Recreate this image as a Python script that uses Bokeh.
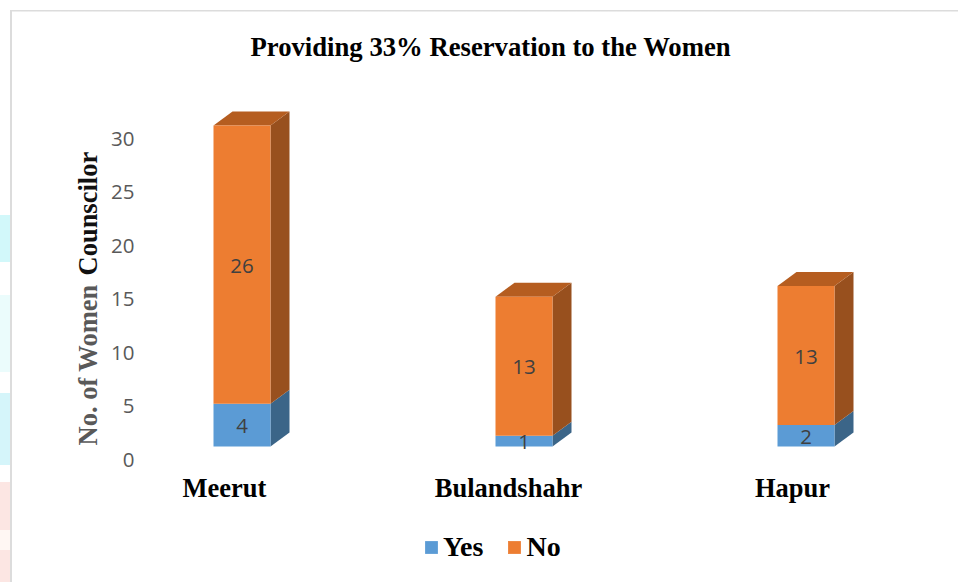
from math import pi
from bokeh.plotting import figure
from bokeh.models import (Range1d, FixedTicker, Label, Legend, LegendItem)
from bokeh.core.properties import value
from bokeh.embed import file_html
from bokeh.resources import INLINE

categories = ["Meerut", "Bulandshahr", "Hapur"]
yes_values = [4, 1, 2]
no_values = [26, 13, 13]
y_ticks = [0, 5, 10, 15, 20, 25, 30]
chart_title = "Providing 33% Reservation to the Women"

SERIF = "Liberation Serif"
SANS = "Open Sans"

FRAME_L, FRAME_T, FRAME_B = 30, 20, 575

def X(px): return (px - 224) / 284
def V(py): return (459 - py) / 10.7

bar_centers = [X(241.5), X(523.5), X(805.5)]
half_w = 28.5 / 284
dx = 19 / 284
dv = 14 / 10.7
base = 13 / 10.7

p = figure(width=958, height=582, output_backend="svg", toolbar_location=None,
           x_range=Range1d(X(FRAME_L), X(958)), y_range=Range1d(V(FRAME_B), V(FRAME_T)),
           min_border_left=FRAME_L, min_border_right=0, min_border_top=FRAME_T,
           min_border_bottom=582 - FRAME_B,
           background_fill_color=None, border_fill_color=None, outline_line_color=None)
p.grid.visible = False

def band(color, y0, y1, x=0, w=10):
    return f"linear-gradient({color},{color}) {x}px {y0}px/{w}px {y1 - y0}px no-repeat"

p.styles = {"background": ", ".join([
    band("#DCDCDC", 10, 11.5, 10, 948),
    band("#DCDCDC", 10, 582, 10, 2),
    band("#D2F8FA", 215, 262),
    band("#EBFCFC", 295, 372),
    band("#D5F5FA", 393, 465),
    band("#FCE6E3", 482, 530),
    band("#FFF7F3", 530, 550),
    band("#FCE6E3", 550, 582),
]) + ", white"}

p.add_layout(Label(x=X(250), y=V(46), text=chart_title, text_font=SERIF, text_font_style="bold",
                   text_font_size="26.7px", text_color="#000000", text_align="left",
                   text_baseline="middle"))

ya = p.yaxis[0]
ya.ticker = FixedTicker(ticks=y_ticks)
ya.axis_line_color = None
ya.major_tick_line_color = None
ya.minor_tick_line_color = None
ya.major_tick_out = 0
ya.major_label_standoff = -(134 - FRAME_L)
ya.major_label_text_font = SANS
ya.major_label_text_font_size = "20.5px"
ya.major_label_text_color = "#595959"

xa = p.xaxis[0]
xa.ticker = FixedTicker(ticks=list(range(len(categories))))
xa.major_label_overrides = {i: c for i, c in enumerate(categories)}
xa.axis_line_color = None
xa.major_tick_line_color = None
xa.minor_tick_line_color = None
xa.major_tick_out = 0
xa.major_label_standoff = 472 - FRAME_B
xa.major_label_text_font = SERIF
xa.major_label_text_font_style = "bold"
xa.major_label_text_font_size = "26.5px"
xa.major_label_text_color = "#000000"

def faces(bottoms, tops):
    front_l, front_r, front_b, front_t = [], [], [], []
    side_x, side_y, top_x, top_y = [], [], [], []
    for c, b, t_ in zip(bar_centers, bottoms, tops):
        l, r = c - half_w, c + half_w
        front_l.append(l); front_r.append(r); front_b.append(b); front_t.append(t_)
        side_x.append([r, r + dx, r + dx, r])
        side_y.append([b, b + dv, t_ + dv, t_])
        top_x.append([l, r, r + dx, l + dx])
        top_y.append([t_, t_, t_ + dv, t_ + dv])
    return front_l, front_r, front_b, front_t, side_x, side_y, top_x, top_y

yes_b = [base] * len(yes_values)
yes_t = [base + y for y in yes_values]
no_t = [base + y + n for y, n in zip(yes_values, no_values)]

yl, yr, yb, yt, ysx, ysy, ytx, yty = faces(yes_b, yes_t)
nl, nr, nb, nt, nsx, nsy, ntx, nty = faces(yes_t, no_t)

p.patches(ysx, ysy, fill_color="#3B6588", line_color=None)
r_yes = p.quad(left=yl, right=yr, bottom=yb, top=yt, fill_color="#5B9BD5", line_color=None)
p.patches(nsx, nsy, fill_color="#98501E", line_color=None)
p.patches(ntx, nty, fill_color="#B55D20", line_color=None)
r_no = p.quad(left=nl, right=nr, bottom=nb, top=nt, fill_color="#ED7D31", line_color=None)

nudge = 1 / 10.7
lx = bar_centers + bar_centers
ly = [(b + t_) / 2 - nudge for b, t_ in zip(yes_b, yes_t)] + [(b + t_) / 2 - nudge for b, t_ in zip(yes_t, no_t)]
lt = [str(v) for v in yes_values + no_values]
p.text(x=lx, y=ly, text=lt, text_align="center", text_baseline="middle",
       text_font=value(SANS), text_font_size="20.5px", text_color="#404040")

p.add_layout(Label(x=X(87), y=V(445), text="No. of Women", angle=pi / 2, text_font=SERIF,
                   text_font_style="bold", text_font_size="26.5px", text_color="#595959",
                   text_align="left", text_baseline="alphabetic"))
p.add_layout(Label(x=X(87), y=V(275), text="Counscilor", angle=pi / 2, text_font=SERIF,
                   text_font_style="bold", text_font_size="26.5px", text_color="#111111",
                   text_align="left", text_baseline="alphabetic"))

legend = Legend(items=[LegendItem(label="Yes", renderers=[r_yes]), LegendItem(label="No", renderers=[r_no])],
                orientation="horizontal", location=(423 - FRAME_L, 12), border_line_color=None,
                background_fill_alpha=0, glyph_width=16, glyph_height=16, label_standoff=4, spacing=23,
                padding=0, margin=0, label_text_font=SERIF, label_text_font_style="bold",
                label_text_font_size="28px", label_text_color="#000000")
p.add_layout(legend)

open("out.html", "w").write(file_html(p, INLINE))
